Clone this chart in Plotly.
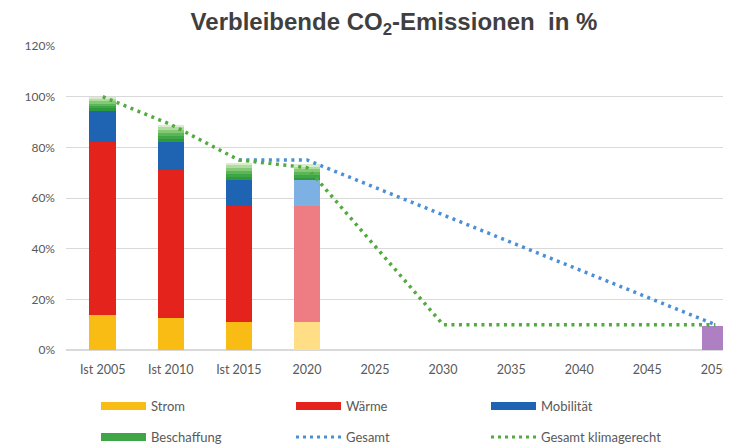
import plotly.graph_objects as go

categories = ["Ist 2005", "Ist 2010", "Ist 2015", "2020", "2025", "2030", "2035", "2040", "2045", "2050"]
bar_cats = ["Ist 2005", "Ist 2010", "Ist 2015", "2020"]

strom = [14, 12.5, 11, 11]
waerme = [68, 58.5, 46, 46]
mobilitaet = [12.5, 11, 10, 10]
beschaffung = [5.5, 7, 7, 6.5]

ziel_cat = ["2050"]
ziel_val = [9.5]

gesamt_x = ["Ist 2015", "2020", "2050"]
gesamt_y = [75, 75, 10]

klima_x = ["Ist 2005", "Ist 2010", "Ist 2015", "2020", "2030", "2050"]
klima_y = [100, 89, 75, 72, 10, 10]

y_ticks = [0, 20, 40, 60, 80, 100, 120]
y_tick_labels = ["0%", "20%", "40%", "60%", "80%", "100%", "120%"]

strom_col = ["#F9BC15", "#F9BC15", "#F9BC15", "#FFDE85"]
waerme_col = ["#E3231C", "#E3231C", "#E3231C", "#EE7C83"]
mob_col = ["#1F64B3", "#1F64B3", "#1F64B3", "#7DB0E3"]
# vertical gradient of the Beschaffung segment (bottom -> top)
besch_shades = ["#2E9A3C", "#3EA646", "#5BB657", "#84C975", "#B0DC9E", "#D6EECB"]

font_fam = "Lato, 'Open Sans', sans-serif"
txt_col = "#595959"

W, H = 723, 438  # page body adds an 8px margin, so the figure fills the 731x446 window

fig = go.Figure()

fig.add_trace(go.Bar(x=bar_cats, y=strom, marker=dict(color=strom_col, line=dict(width=0)),
                     name="Strom", showlegend=False))
fig.add_trace(go.Bar(x=bar_cats, y=waerme, marker=dict(color=waerme_col, line=dict(width=0)),
                     name="Wärme", showlegend=False))
fig.add_trace(go.Bar(x=bar_cats, y=mobilitaet, marker=dict(color=mob_col, line=dict(width=0)),
                     name="Mobilität", showlegend=False))
n = len(besch_shades)
for c in besch_shades:
    fig.add_trace(go.Bar(x=bar_cats, y=[v / n for v in beschaffung],
                         marker=dict(color=c, line=dict(width=0)),
                         name="Beschaffung", showlegend=False, hoverinfo="skip"))
fig.add_trace(go.Bar(x=ziel_cat, y=ziel_val, marker=dict(color="#AE7FC2", line=dict(width=0)),
                     name="Ziel 2050", showlegend=False))

blue = "#4A8FD8"
green = "#52AB3E"
fig.add_trace(go.Scatter(x=gesamt_x, y=gesamt_y, mode="lines", showlegend=False,
                         line=dict(color=blue, width=3.5, dash="3px,4.5px")))
fig.add_trace(go.Scatter(x=klima_x, y=klima_y, mode="lines", showlegend=False,
                         line=dict(color=green, width=3.5, dash="3px,4.5px")))

# legend entries
leg1 = [("Strom", "#F9BC15", "solid", 8), ("Wärme", "#E3231C", "solid", 8), ("Mobilität", "#1F64B3", "solid", 8)]
leg2 = [("Beschaffung", "#3EA646", "solid", 8), ("Gesamt", blue, "3px,4px", 3), ("Gesamt klimagerecht", green, "3px,4px", 3)]
for name, col, dash, w in leg1:
    fig.add_trace(go.Scatter(x=[None], y=[None], mode="lines", name=name,
                             line=dict(color=col, width=w, dash=dash), legend="legend"))
for name, col, dash, w in leg2:
    fig.add_trace(go.Scatter(x=[None], y=[None], mode="lines", name=name,
                             line=dict(color=col, width=w, dash=dash), legend="legend2"))

legend_common = dict(orientation="h", xref="container", yref="container", xanchor="left", yanchor="middle",
                     traceorder="normal", entrywidth=135, entrywidthmode="pixels", itemwidth=45,
                     font=dict(family=font_fam, size=13, color=txt_col), bgcolor="rgba(0,0,0,0)")

fig.update_layout(
    width=W, height=H,
    margin=dict(l=58, r=0, t=37.5, b=96),
    paper_bgcolor="white", plot_bgcolor="white",
    barmode="stack", bargap=0.61,
    title=dict(text="<b>Verbleibende CO<sub>2</sub>-Emissionen  in %</b>", x=386 / W, xanchor="center",
               y=1 - 14 / H, yanchor="middle",
               font=dict(family="'Liberation Sans', Arial, sans-serif", size=24, color="#3F3F3F")),
    xaxis=dict(type="category", categoryorder="array", categoryarray=categories,
               range=[-0.54, 9.23], showgrid=False, showline=False, ticks="", automargin=False,
               tickfont=dict(family=font_fam, size=12.5, color=txt_col), ticklabelstandoff=10),
    yaxis=dict(range=[0, 120], tickvals=y_ticks, ticktext=y_tick_labels, showgrid=True, automargin=False,
               gridcolor="#D9D9D9", gridwidth=1, zeroline=True, zerolinecolor="#D9D9D9",
               showline=False, ticks="", tickfont=dict(family=font_fam, size=12, color=txt_col),
               ticklabelstandoff=10),
    legend=dict(x=88 / W, y=1 - 398 / H, **legend_common),
    legend2=dict(x=88 / W, y=1 - 429 / H, **legend_common),
)

fig.write_html("out.html")
